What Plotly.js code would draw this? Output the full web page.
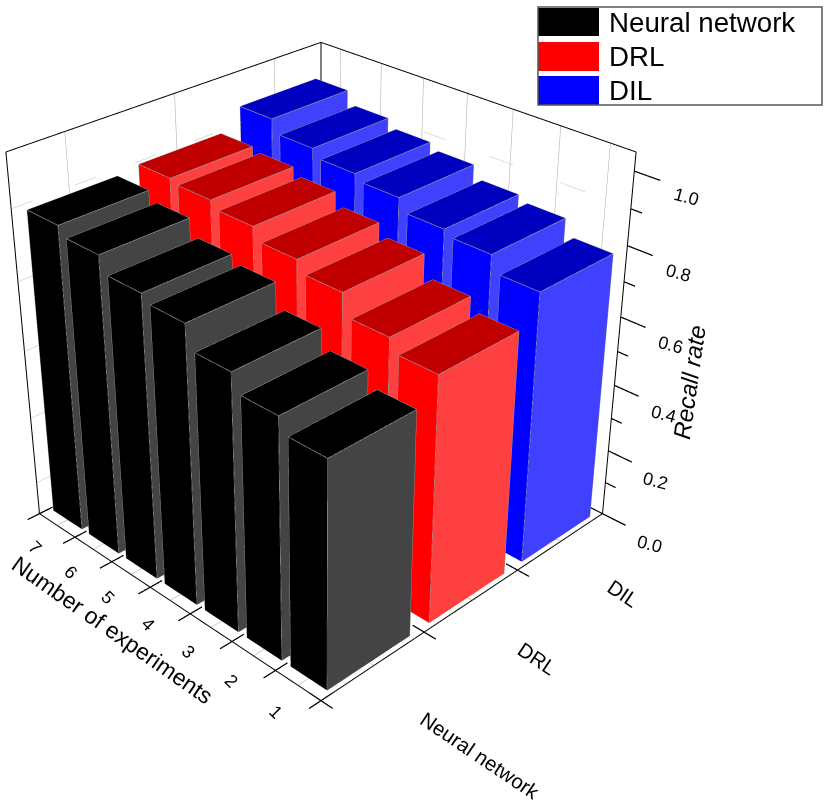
<!DOCTYPE html>
<html>
<head>
<meta charset="utf-8">
<script src="https://cdn.plot.ly/plotly-3.0.1.min.js"></script>
<style>
html,body{margin:0;padding:0;width:827px;height:807px;overflow:hidden;background:#fff}
#clip{position:absolute;left:0;top:0;width:827px;height:807px;overflow:hidden}
#gd{position:absolute}
</style>
</head>
<body>
<div id="clip"><div id="gd"></div></div>
<script>
// ---- data ----
var categories = ['Neural network', 'DRL', 'DIL'];
var experiments = [1, 2, 3, 4, 5, 6, 7];
var neuralNetwork = [0.645, 0.686, 0.735, 0.80, 0.82, 0.865, 0.89];
var drl = [0.707, 0.743, 0.803, 0.835, 0.87, 0.89, 0.90];
var dil = [0.785, 0.83, 0.845, 0.88, 0.897, 0.92, 0.957];
var series = [neuralNetwork, drl, dil];
var zMajor = [0, 0.2, 0.4, 0.6, 0.8, 1.0];
var zMinor = [0.1, 0.3, 0.5, 0.7, 0.9];
var zLabels = ['0.0', '0.2', '0.4', '0.6', '0.8', '1.0'];
var frontColors = ['#000000', '#ff0000', '#0000ff'];
var sideColors = ['#444444', '#ff4040', '#4040ff'];
var topColors = ['#000000', '#c00000', '#0000c0'];

// ---- view constants ----
var S = 1500, centreX = 321, centreY = 343;
var X0 = 0.5, X1 = 3.5, Y0 = 0.5, Y1 = 7.5, Z1 = 1.05, BAR = 0.4;

function toPaperX(px) { return (px + S / 2 - centreX) / S; }
function toPaperY(py) { return 1 - (py + S / 2 - centreY) / S; }

var gd = document.getElementById('gd');
gd.style.left = (centreX - S / 2) + 'px';
gd.style.top = (centreY - S / 2) + 'px';

function barMesh(si) {
  var xs = [], ys = [], zs = [], I = [], J = [], K = [], fc = [];
  var cx = si + 1;
  series[si].forEach(function (v, n) {
    var cy = experiments[n];
    var b = xs.length;
    [[-1, -1, 0], [1, -1, 0], [1, 1, 0], [-1, 1, 0], [-1, -1, 1], [1, -1, 1], [1, 1, 1], [-1, 1, 1]].forEach(function (c) {
      xs.push(cx + c[0] * BAR); ys.push(cy + c[1] * BAR); zs.push(c[2] * v);
    });
    var faces = [
      [[0, 1, 5], [0, 5, 4], sideColors[si]],
      [[3, 0, 4], [3, 4, 7], frontColors[si]],
      [[4, 5, 6], [4, 6, 7], topColors[si]],
      [[1, 2, 6], [1, 6, 5], sideColors[si]],
      [[2, 3, 7], [2, 7, 6], frontColors[si]],
      [[0, 2, 1], [0, 3, 2], topColors[si]]
    ];
    faces.forEach(function (f) {
      [f[0], f[1]].forEach(function (t) {
        I.push(b + t[0]); J.push(b + t[1]); K.push(b + t[2]); fc.push(f[2]);
      });
    });
  });
  return {
    type: 'mesh3d', name: categories[si], x: xs, y: ys, z: zs, i: I, j: J, k: K, facecolor: fc,
    flatshading: true, hoverinfo: 'name+z',
    lighting: { ambient: 1, diffuse: 0, specular: 0, roughness: 1, fresnel: 0 }
  };
}

function lines(segs, color, width, dash) {
  var xs = [], ys = [], zs = [];
  segs.forEach(function (s) {
    xs.push(s[0], s[3], null); ys.push(s[1], s[4], null); zs.push(s[2], s[5], null);
  });
  return {
    type: 'scatter3d', mode: 'lines', x: xs, y: ys, z: zs, hoverinfo: 'skip', showlegend: false,
    line: { color: color, width: width, dash: dash || 'solid' }
  };
}

function barEdges() {
  var segs = [];
  series.forEach(function (vals, si) {
    var cx = si + 1;
    vals.forEach(function (v, n) {
      var cy = experiments[n], a = cx - BAR, b = cx + BAR, c = cy - BAR, d = cy + BAR;
      segs.push([a, c, 0, a, c, v], [b, c, 0, b, c, v], [a, d, 0, a, d, v]);
      segs.push([a, c, v, b, c, v], [a, c, v, a, d, v], [b, c, v, b, d, v], [a, d, v, b, d, v]);
    });
  });
  return lines(segs, '#9a9a9a', 1.5);
}

var gridSolid = [];
categories.forEach(function (c, i) {
  var x = i + 1;
  gridSolid.push([x, Y1, 0, x, Y1, Z1], [x, Y0, 0, x, Y1, 0]);
});
experiments.forEach(function (y) {
  gridSolid.push([X1, y, 0, X1, y, Z1], [X0, y, 0, X1, y, 0]);
});
var gridDash = [];
zMinor.forEach(function (z) {
  gridDash.push([X0, Y1, z, X1, Y1, z], [X1, Y0, z, X1, Y1, z]);
});

var frame = [
  [X0, Y0, 0, X1, Y0, 0], [X0, Y0, 0, X0, Y1, 0], [X1, Y0, 0, X1, Y0, Z1],
  [X0, Y1, 0, X0, Y1, Z1], [X1, Y1, 0, X1, Y1, Z1],
  [X0, Y1, Z1, X1, Y1, Z1], [X1, Y0, Z1, X1, Y1, Z1],
  [X1, Y0, 0, X1, Y1, 0], [X0, Y1, 0, X1, Y1, 0]
];
var ticks = [];
for (var n = 0; n <= categories.length; n++) ticks.push([X0 + n, Y0 - 0.25, 0, X0 + n, Y0 + 0.25, 0]);
for (var m = 0; m <= experiments.length; m++) ticks.push([X0 - 0.11, Y0 + m, 0, X0 + 0.11, Y0 + m, 0]);
zMajor.forEach(function (z) { ticks.push([X1, Y0 - 0.5, z, X1, Y0, z]); });
zMinor.forEach(function (z) { ticks.push([X1, Y0 - 0.22, z, X1, Y0, z]); });

var traces = [
  lines(gridSolid, '#b4b4b4', 1.2),
  lines(gridDash, '#c8c8c8', 1.2, 'dash'),
  lines(frame, '#000000', 2),
  lines(ticks, '#000000', 2.5),
  barMesh(0), barMesh(1), barMesh(2), barEdges()
];

var family = 'Liberation Sans, Arial, sans-serif';
var tickFont = { family: family, size: 18, color: '#000' };
var catFont = { family: family, size: 20.5, color: '#000' };
var sceneAnn = [];
function addAnn(x, y, z, text, angle, font) {
  sceneAnn.push({ x: x, y: y, z: z, text: text, textangle: angle, showarrow: false, font: font, xanchor: 'center', yanchor: 'middle', yshift: -7 });
}
var catLabelX = [0.89, 1.89, 2.88];
var catLabelY = [Y0 - 2.4, Y0 - 1.58, Y0 - 1.53];
categories.forEach(function (c, i) { addAnn(catLabelX[i], catLabelY[i], 0, c, 34, catFont); });
experiments.forEach(function (e) { addAnn(X0 - 0.235, e - 0.08, 0, String(e), 45, tickFont); });
zMajor.forEach(function (z, i) { addAnn(X1, Y0 - 1.0, z, zLabels[i], 15, tickFont); });
addAnn(X0 - 0.447, 4.21, 0, 'Number of experiments', 35, { family: family, size: 23, color: '#000' });
addAnn(X1, Y0 - 1.42, 0.52, '<i>Recall rate</i>', -82, { family: family, size: 24, color: '#000' });

var shapes = [], annotations = [];
var legendRows = [[8, 36], [42, 71], [76, 105]];
categories.forEach(function (c, i) {
  shapes.push({ type: 'rect', xref: 'paper', yref: 'paper', x0: toPaperX(538), x1: toPaperX(599), y0: toPaperY(legendRows[i][0]), y1: toPaperY(legendRows[i][1]), fillcolor: frontColors[i], line: { width: 0 } });
  annotations.push({ xref: 'paper', yref: 'paper', x: toPaperX(607), y: toPaperY((legendRows[i][0] + legendRows[i][1]) / 2), text: c, showarrow: false, xanchor: 'left', yanchor: 'middle', font: { family: family, size: 27.7, color: '#000' } });
});
shapes.push({ type: 'rect', xref: 'paper', yref: 'paper', x0: toPaperX(538), x1: toPaperX(822), y0: toPaperY(7), y1: toPaperY(105), line: { color: '#555', width: 1.5 } });

var noAxis = { visible: false, showgrid: false, showline: false, zeroline: false, showticklabels: false, showbackground: false, showspikes: false, title: { text: '' }, ticks: '' };
function axis(range) { return Object.assign({}, noAxis, { range: range, autorange: false }); }

var layout = {
  width: S, height: S, margin: { l: 0, r: 0, t: 0, b: 0 }, paper_bgcolor: '#fff', showlegend: false,
  shapes: shapes, annotations: annotations,
  scene: {
    domain: { x: [0, 1], y: [0, 1] },
    xaxis: axis([-1, 5]), yaxis: axis([-2.5, 10.5]), zaxis: axis([0, Z1]),
    aspectmode: 'manual', aspectratio: { x: 2, y: 13 / 7, z: 0.985 },
    camera: { eye: { x: -2.65, y: -2.65, z: 2.12 }, center: { x: 0, y: 0, z: 0 }, up: { x: 0, y: 0, z: 1 }, projection: { type: 'perspective' } },
    annotations: sceneAnn
  }
};
Plotly.newPlot(gd, traces, layout, { displayModeBar: false, responsive: false });
</script>
</body>
</html>
